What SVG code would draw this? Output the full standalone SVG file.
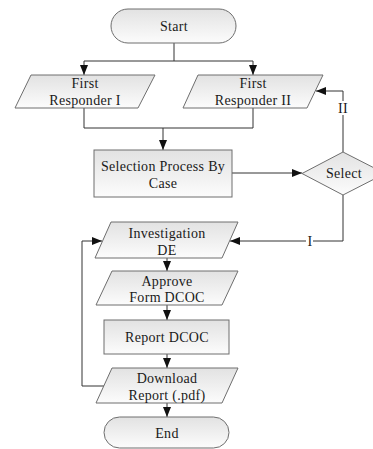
<svg xmlns="http://www.w3.org/2000/svg" width="373" height="449" viewBox="0 0 373 449">
<defs>
<linearGradient id="g" x1="0" y1="0" x2="0" y2="1">
<stop offset="0" stop-color="#e2e2e2"/>
<stop offset="1" stop-color="#fcfcfc"/>
</linearGradient>
<marker id="ah" markerUnits="userSpaceOnUse" markerWidth="10" markerHeight="10" viewBox="0 0 10 10" refX="10" refY="5" orient="auto">
<path d="M0,1 L10,5 L0,9 Z" fill="#111"/>
</marker>
<style>
.s{fill:url(#g);stroke:#6e6e6e;stroke-width:1}
text{font-family:'Liberation Serif','Times New Roman',serif;font-size:14px;fill:#1a1a1a;text-anchor:middle;letter-spacing:0.3px}
.c{fill:none;stroke:#333;stroke-width:1}
.a{marker-end:url(#ah)}
</style>
</defs>
<rect width="373" height="449" fill="#fff"/>
<g id="connectors">
<path class="c" d="M174,43 V61 M84,61 H253"/>
<path class="c a" d="M84,61 V75"/>
<path class="c a" d="M253,61 V75"/>
<path class="c" d="M84,108 V128 H253 V108"/>
<path class="c a" d="M163,128 V150"/>
<path class="c a" d="M232,173 H302"/>
<path class="c a" d="M343,152 V91 H316"/>
<path class="c a" d="M343,195 V241 H230"/>
<path class="c a" d="M167,258 V271"/>
<path class="c a" d="M167,305 V320"/>
<path class="c a" d="M167,354 V368"/>
<path class="c a" d="M104,386 H82 V241 H102"/>
<path class="c a" d="M167,403 V417"/>
<rect x="338" y="101" width="11" height="14" fill="#fff"/>
<text x="343" y="113">II</text>
<rect x="306" y="234" width="7" height="14" fill="#fff"/>
<text x="310" y="246">I</text>
</g>
<g id="start">
<rect class="s" x="111" y="9" width="125" height="34" rx="17"/>
<text x="174" y="31">Start</text>
</g>
<g id="fr1">
<polygon class="s" points="31,75 155,75 138,108 15,108"/>
<text x="85" y="88">First</text>
<text x="85" y="105">Responder I</text>
</g>
<g id="fr2">
<polygon class="s" points="198,75 323,75 307,108 183,108"/>
<text x="253" y="88">First</text>
<text x="253" y="105">Responder II</text>
</g>
<g id="selection">
<rect class="s" x="94" y="150" width="138" height="47"/>
<text x="163" y="171">Selection Process By</text>
<text x="163" y="188">Case</text>
</g>
<g id="select">
<polygon class="s" points="343,152 385,173.5 343,195 302,173.5"/>
<text x="344" y="178">Select</text>
</g>
<g id="investigation">
<polygon class="s" points="111,222 238,222 222,258 95,258"/>
<text x="167" y="238">Investigation</text>
<text x="167" y="255">DE</text>
</g>
<g id="approve">
<polygon class="s" points="112,271 238,271 222,305 96,305"/>
<text x="167" y="286">Approve</text>
<text x="167" y="302">Form DCOC</text>
</g>
<g id="report">
<rect class="s" x="104" y="320" width="125" height="34"/>
<text x="167" y="342">Report DCOC</text>
</g>
<g id="download">
<polygon class="s" points="112,368 238,368 222,403 96,403"/>
<text x="167" y="383">Download</text>
<text x="167" y="400">Report (.pdf)</text>
</g>
<g id="end">
<rect class="s" x="104" y="417" width="125" height="31" rx="15.5"/>
<text x="167" y="438">End</text>
</g>
</svg>
